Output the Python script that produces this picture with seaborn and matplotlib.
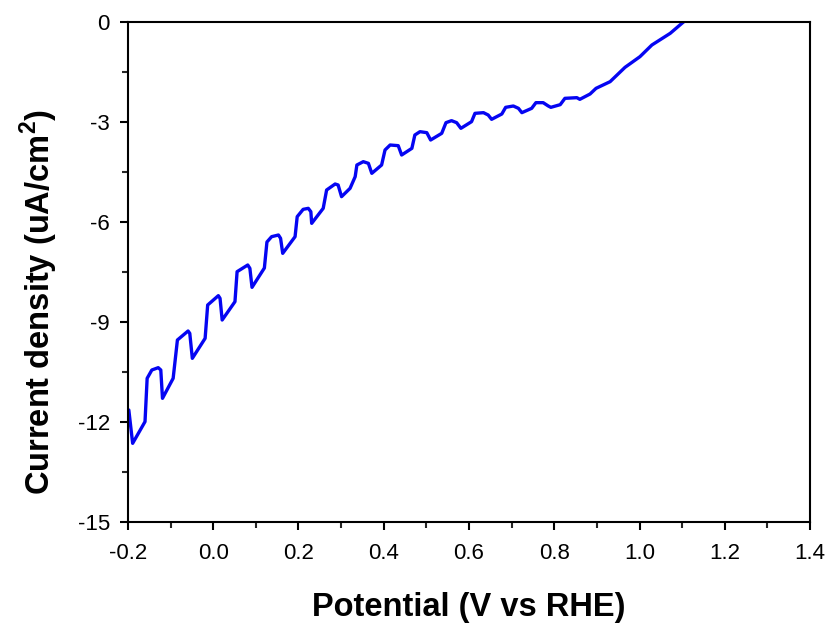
import matplotlib
matplotlib.use('Agg')
import matplotlib.pyplot as plt
import seaborn as sns
from matplotlib.ticker import MultipleLocator

# chopped-light LSV curve
potential = [-0.198, -0.189, -0.160, -0.155, -0.144, -0.129, -0.123, -0.119,
             -0.094, -0.084, -0.059, -0.055, -0.049, -0.019, -0.013, 0.012,
             0.016, 0.021, 0.051, 0.056, 0.081, 0.086, 0.091, 0.120,
             0.126, 0.137, 0.153, 0.158, 0.163, 0.192, 0.197, 0.211,
             0.223, 0.229, 0.231, 0.258, 0.266, 0.286, 0.293, 0.301,
             0.321, 0.333, 0.337, 0.352, 0.364, 0.372, 0.395, 0.403,
             0.415, 0.434, 0.442, 0.466, 0.473, 0.485, 0.501, 0.510,
             0.536, 0.546, 0.559, 0.571, 0.581, 0.606, 0.614, 0.634,
             0.645, 0.653, 0.677, 0.686, 0.704, 0.716, 0.724, 0.747,
             0.757, 0.774, 0.786, 0.792, 0.814, 0.825, 0.853, 0.860,
             0.884, 0.898, 0.931, 0.966, 1.001, 1.029, 1.072, 1.103, 1.115]
current = [-11.64, -12.64, -11.99, -10.69, -10.44, -10.37, -10.44, -11.29,
           -10.69, -9.54, -9.27, -9.34, -10.09, -9.49, -8.49, -8.21,
           -8.29, -8.94, -8.39, -7.49, -7.29, -7.39, -7.96, -7.38,
           -6.60, -6.44, -6.39, -6.49, -6.94, -6.44, -5.84, -5.62,
           -5.59, -5.69, -6.04, -5.59, -5.04, -4.86, -4.89, -5.24,
           -4.99, -4.64, -4.29, -4.19, -4.24, -4.54, -4.29, -3.84,
           -3.69, -3.71, -3.99, -3.79, -3.39, -3.29, -3.32, -3.54,
           -3.34, -3.02, -2.96, -3.02, -3.19, -2.99, -2.74, -2.72,
           -2.79, -2.92, -2.76, -2.56, -2.52, -2.59, -2.72, -2.59,
           -2.42, -2.42, -2.52, -2.56, -2.48, -2.29, -2.27, -2.32,
           -2.16, -1.99, -1.79, -1.36, -1.04, -0.69, -0.34, 0.0, 0.1]

x_ticks = [-0.2, 0.0, 0.2, 0.4, 0.6, 0.8, 1.0, 1.2, 1.4]
y_ticks = [-15, -12, -9, -6, -3, 0]

sns.set_style('ticks')
plt.rcParams['font.family'] = ['Liberation Sans', 'DejaVu Sans']
plt.rcParams['axes.unicode_minus'] = False
plt.rcParams['mathtext.fontset'] = 'custom'
plt.rcParams['mathtext.bf'] = 'Liberation Sans:bold'
plt.rcParams['mathtext.rm'] = 'Liberation Sans:bold'

fig = plt.figure(figsize=(8.32, 6.25), dpi=100)
ax = fig.add_axes([0.1538, 0.1648, 0.8198, 0.8000])

sns.lineplot(x=potential, y=current, sort=False, estimator=None,
             color='#0505f2', linewidth=2.4, ax=ax)
for ln in ax.lines:
    ln.set_solid_joinstyle('round')
    ln.set_solid_capstyle('round')

ax.set_xlim(-0.2, 1.4)
ax.set_ylim(-15, 0)
ax.set_xticks(x_ticks)
ax.set_xticklabels([f'{v:.1f}' for v in x_ticks])
ax.set_yticks(y_ticks)
ax.set_yticklabels([str(v) for v in y_ticks])
ax.xaxis.set_minor_locator(MultipleLocator(0.1))
ax.yaxis.set_minor_locator(MultipleLocator(1.5))

for s in ax.spines.values():
    s.set_linewidth(1.5)
    s.set_color('black')
ax.tick_params(which='major', direction='out', length=6, width=1.5,
               labelsize=16, colors='black', top=False, right=False, pad=7)
ax.tick_params(axis='x', which='major', pad=9)
ax.tick_params(which='minor', direction='out', length=4, width=1.5,
               top=False, right=False)

ax.set_xlabel('Potential (V vs RHE)', fontsize=23.5, fontweight='bold',
              color='black', labelpad=20)
ax.set_ylabel(r'Current density (uA/cm$^\mathbf{2}$)', fontsize=23.5,
              fontweight='bold', color='black')
ax.yaxis.set_label_coords(-0.1, 0.44)

fig.savefig('out.png', dpi=100)
